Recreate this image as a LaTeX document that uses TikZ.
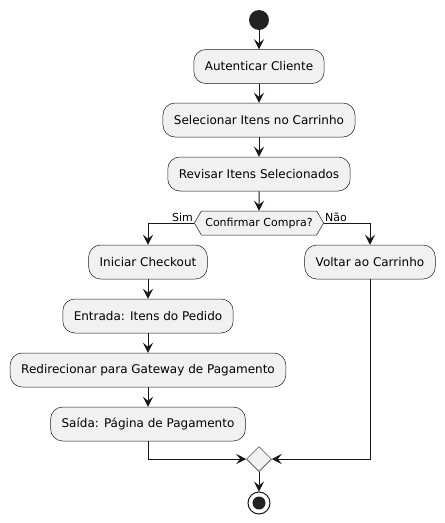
\documentclass[tikz,border=0pt]{standalone}
\usepackage{fontspec}
\setmainfont{DejaVu Sans}
\usetikzlibrary{arrows.meta,shapes.geometric,shapes.symbols}
\definecolor{actfill}{HTML}{F1F1F1}
\definecolor{ink}{HTML}{181818}
\definecolor{dot}{HTML}{222222}
\begin{document}
\begin{tikzpicture}[
  x=1pt, y=-1pt,
  act/.style={draw=ink, line width=0.5pt, fill=actfill, rounded corners=12pt, minimum height=34pt, inner xsep=11pt, font=\fontsize{12}{14}\selectfont},
  choice/.style={draw=ink, line width=0.5pt, fill=actfill, signal, signal to=west and east, signal pointer angle=120, minimum height=24pt, inner xsep=4pt, inner ysep=0pt, font=\fontsize{11}{13}\selectfont},
  merge/.style={draw=ink, line width=0.5pt, fill=actfill, diamond, minimum size=25pt, inner sep=0pt},
  flow/.style={draw=ink, line width=1pt, -{Stealth[length=10pt,width=10pt,inset=4pt]}},
  tag/.style={font=\fontsize{11}{13}\selectfont, inner sep=1pt}
]
\useasboundingbox (0,0) rectangle (445,523);
% start and activities of the main line
\node[circle, fill=dot, minimum size=20pt, inner sep=0pt] (start) at (259,20) {};
\node[act] (auth) at (259,66.5) {Autenticar Cliente};
\node[act] (cart) at (259,120) {Selecionar Itens no Carrinho};
\node[act] (review) at (259,174) {Revisar Itens Selecionados};
\node[choice] (confirm) at (259,223) {Confirmar Compra?};
% yes branch
\node[act] (checkout) at (148,262) {Iniciar Checkout};
\node[act] (input) at (148,316) {Entrada: Itens do Pedido};
\node[act] (redirect) at (148,370) {Redirecionar para Gateway de Pagamento};
\node[act] (output) at (148,424) {Saída: Página de Pagamento};
% no branch
\node[act] (back) at (370,262) {Voltar ao Carrinho};
% merge and end
\node[merge] (join) at (259,459) {};
\node[circle, draw=ink, line width=1pt, fill=white, minimum size=22pt, inner sep=0pt] (stop) at (259,503) {};
\node[circle, fill=dot, minimum size=13pt, inner sep=0pt] at (stop) {};
% connectors
\draw[flow] (start) -- (auth);
\draw[flow] (auth) -- (cart);
\draw[flow] (cart) -- (review);
\draw[flow] (review) -- (confirm);
\draw[flow] (confirm.west) -| (checkout.north);
\draw[flow] (confirm.east) -| (back.north);
\node[tag, anchor=south east] at (confirm.west) {Sim};
\node[tag, anchor=south west] at (confirm.east) {Não};
\draw[flow] (checkout) -- (input);
\draw[flow] (input) -- (redirect);
\draw[flow] (redirect) -- (output);
\draw[flow] (output.south) |- (join.west);
\draw[flow] (back.south) |- (join.east);
\draw[flow] (join) -- (stop);
\end{tikzpicture}
\end{document}
